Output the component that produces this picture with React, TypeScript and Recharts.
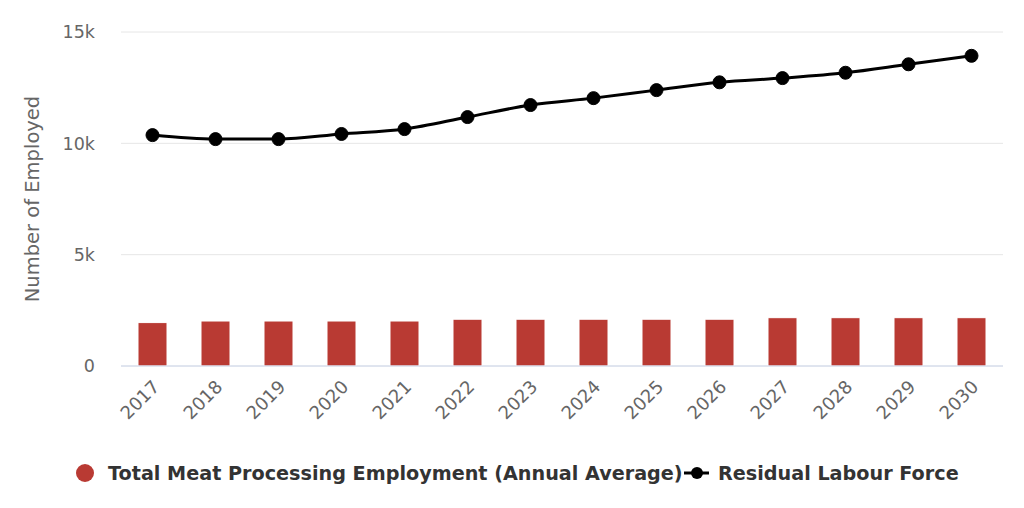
import React from "react";
import { Bar, CartesianGrid, ComposedChart, Legend, Line, XAxis, YAxis } from "recharts";

const years = ["2017", "2018", "2019", "2020", "2021", "2022", "2023", "2024", "2025", "2026", "2027", "2028", "2029", "2030"];
const meatProcessing = [1950, 2020, 2020, 2020, 2020, 2100, 2100, 2100, 2100, 2100, 2170, 2170, 2170, 2170];
const residualLabour = [10370, 10190, 10190, 10420, 10640, 11180, 11720, 12030, 12390, 12740, 12930, 13170, 13550, 13930];
const yTicks = [0, 5000, 10000, 15000];

const data = years.map((year, i) => ({
  year,
  meat: meatProcessing[i],
  residual: residualLabour[i],
}));

const font = "'DejaVu Sans', sans-serif";

function YearTick({ x, y, payload }: any) {
  return (
    <text
      x={x + 8}
      y={y + 14}
      transform={`rotate(-45 ${x + 8} ${y + 14})`}
      textAnchor="end"
      fill="#666"
      fontSize={18}
      fontFamily={font}
    >
      {payload.value}
    </text>
  );
}

function LegendBox() {
  return (
    <svg width={1024} height={40} style={{ display: "block" }}>
      <circle cx={85} cy={17} r={9} fill="#b93a33" />
      <text x={108} y={24} fontSize={19.2} fontWeight="bold" fill="#333" fontFamily={font}>
        Total Meat Processing Employment (Annual Average)
      </text>
      <line x1={684} y1={17} x2={709} y2={17} stroke="#000" strokeWidth={3} />
      <circle cx={697} cy={17} r={6} fill="#000" />
      <text x={718} y={24} fontSize={19.2} fontWeight="bold" fill="#333" fontFamily={font}>
        Residual Labour Force
      </text>
    </svg>
  );
}

export default function App() {
  return (
    <div style={{ position: "absolute", left: 0, top: 0, width: 1024, height: 508, background: "#fff" }}>
      <ComposedChart
        width={1024}
        height={508}
        data={data}
        margin={{ top: 32, right: 21, left: 0, bottom: 12 }}
      >
        <CartesianGrid stroke="#e6e6e6" vertical={false} />
        <XAxis
          dataKey="year"
          height={90}
          tick={<YearTick />}
          tickLine={false}
          axisLine={{ stroke: "#ccd6eb" }}
          interval={0}
        />
        <YAxis
          width={121}
          domain={[0, 15000]}
          ticks={yTicks}
          tickFormatter={(v) => (v === 0 ? "0" : `${v / 1000}k`)}
          tick={{ fill: "#666", fontSize: 17.5, fontFamily: font }}
          tickLine={false}
          axisLine={false}
          tickMargin={20}
          label={{
            value: "Number of Employed",
            angle: -90,
            position: "insideLeft",
            offset: 32,
            style: { textAnchor: "middle", fill: "#666", fontSize: 19.5, fontFamily: font },
          }}
        />
        <Legend verticalAlign="bottom" height={40} content={<LegendBox />} />
        <Bar dataKey="meat" fill="#b93a33" stroke="#fff" strokeWidth={1} barSize={29} isAnimationActive={false} />
        <Line
          type="monotone"
          dataKey="residual"
          stroke="#000"
          strokeWidth={3}
          dot={{ r: 6.5, fill: "#000", stroke: "#000", strokeWidth: 1 }}
          isAnimationActive={false}
        />
      </ComposedChart>
    </div>
  );
}
